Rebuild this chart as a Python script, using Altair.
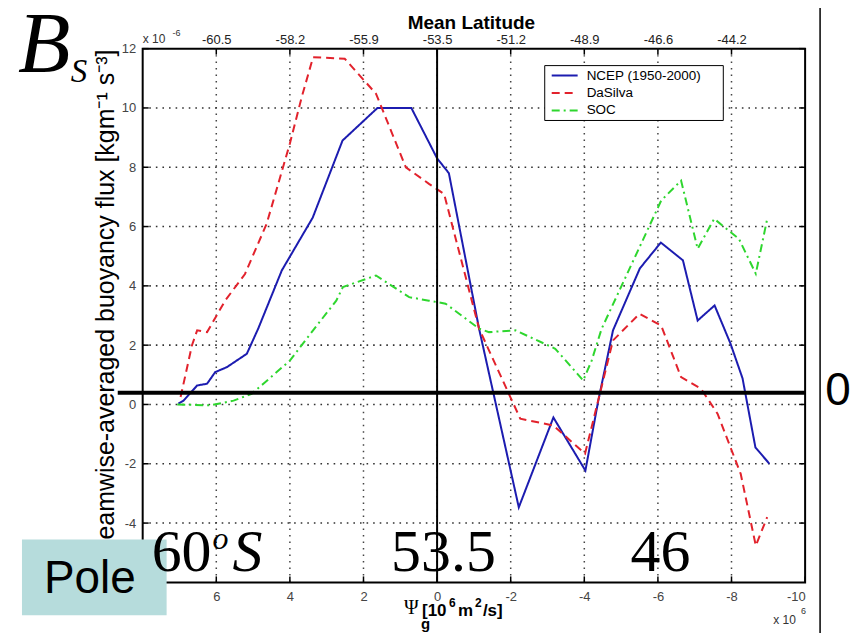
import altair as alt
import pandas as pd

# ---------------- data (x in 10^6 m^2/s, y in 10^-6 kg m^-1 s^-3) ----------------
series_names = ["NCEP (1950-2000)", "DaSilva", "SOC"]

ncep_psi = [7.03, 6.89, 6.52, 6.25, 6.03, 5.71, 5.17, 4.86, 4.22, 3.38, 2.57, 1.62, 0.70,
            0.0, -0.32, -1.14, -2.22, -3.16, -4.03, -4.38, -4.78, -5.51, -6.08, -6.68,
            -7.08, -7.54, -7.97, -8.30, -8.65, -9.03]
ncep_b = [0.03, 0.13, 0.64, 0.70, 1.09, 1.26, 1.71, 2.56, 4.52, 6.30, 8.90, 10.0, 10.0,
          8.30, 7.80, 2.56, -3.47, -0.44, -2.23, 0.13, 2.50, 4.59, 5.46, 4.86,
          2.83, 3.34, 2.06, 0.88, -1.45, -2.00]

dasilva_psi = [6.97, 6.66, 6.52, 6.25, 5.76, 5.22, 4.63, 4.00, 3.68, 3.37, 2.51, 1.66, 0.85,
               0.22, -0.19, -1.14, -1.99, -2.26, -3.16, -4.02, -4.78, -5.50, -6.09, -6.63,
               -7.17, -7.62, -8.25, -8.66, -8.97]
dasilva_b = [0.25, 2.00, 2.50, 2.44, 3.50, 4.40, 6.10, 8.80, 10.36, 11.71, 11.66, 10.48, 8.00,
             7.44, 7.10, 2.56, 0.25, -0.48, -0.71, -1.66, 2.16, 3.06, 2.66, 0.92,
             0.53, -0.31, -2.34, -4.76, -3.80]

soc_psi = [7.06, 6.16, 5.53, 5.04, 4.72, 4.00, 3.37, 2.74, 2.56, 1.66, 0.76, 0.22, -0.23,
           -1.14, -1.41, -2.13, -3.21, -3.97, -4.20, -4.47, -6.09, -6.63, -7.08, -7.53,
           -8.20, -8.66, -8.97]
soc_b = [0.00, -0.03, 0.13, 0.36, 0.70, 1.48, 2.50, 3.50, 3.96, 4.35, 3.62, 3.50, 3.40,
         2.56, 2.44, 2.50, 1.88, 0.81, 1.48, 2.55, 6.88, 7.55, 5.25, 6.26,
         5.59, 4.41, 6.26]

x_ticks = [6, 4, 2, 0, -2, -4, -6, -8, -10]
y_ticks = [-4, -2, 0, 2, 4, 6, 8, 10, 12]
grid_y = [-4, -2, 0, 2, 4, 6, 8, 10]
top_ticks = [6, 4, 2, 0, -2, -4, -6, -8]
lat_labels = ["-60.5", "-58.2", "-55.9", "-53.5", "-51.2", "-48.9", "-46.6", "-44.2"]

# ---------------- tables ----------------
rows = []
for name, xs, ys in [(series_names[0], ncep_psi, ncep_b),
                     (series_names[1], dasilva_psi, dasilva_b),
                     (series_names[2], soc_psi, soc_b)]:
    for i, (xv, yv) in enumerate(zip(xs, ys)):
        rows.append({"series": name, "psi": xv, "b": yv, "idx": i})
df = pd.DataFrame(rows)

colors = ["#1c1cb0", "#e2222c", "#2ed62e"]
dashes = [[1, 0], [8, 5], [8, 4, 2, 4]]

W, H = 664, 535
xscale = alt.Scale(domain=[-10, 8], reverse=True, nice=False, zero=False)
yscale = alt.Scale(domain=[-6, 12], nice=False, zero=False)

# dotted grid (MATLAB style), drawn from the tick lists through the scales
xgrid = alt.Chart(pd.DataFrame({"psi": top_ticks})).mark_rule(
    color="#444", strokeWidth=1.5, strokeDash=[1.5, 5]).encode(
    x=alt.X("psi:Q", scale=xscale, axis=None), y=alt.value(0), y2=alt.value(H))
ygrid = alt.Chart(pd.DataFrame({"gy": grid_y})).mark_rule(
    color="#333", strokeWidth=1.6, strokeDash=[1.6, 5]).encode(
    y=alt.Y("gy:Q", scale=yscale, axis=None), x=alt.value(0), x2=alt.value(W))

lines = alt.Chart(df).mark_line(strokeWidth=2).encode(
    x=alt.X("psi:Q", scale=xscale,
            axis=alt.Axis(orient="bottom", values=x_ticks, grid=False, title=None,
                          labelExpr="'' + datum.value", labelPadding=8)),
    y=alt.Y("b:Q", scale=yscale,
            axis=alt.Axis(values=y_ticks, grid=False, labelExpr="'' + datum.value",
                          labelPadding=7,
                          title="Streamwise-averaged buoyancy flux [kgm\u207b\u00b9 s\u207b\u00b3]",
                          titleFontSize=25, titleFontWeight="normal", titleColor="black",
                          titleAngle=270, titleX=-29, titleY=262, titleAlign="center",
                          titleBaseline="alphabetic")),
    color=alt.Color("series:N", scale=alt.Scale(domain=series_names, range=colors), legend=None),
    strokeDash=alt.StrokeDash("series:N", scale=alt.Scale(domain=series_names, range=dashes),
                              legend=None),
    order="idx:Q",
)

# top latitude axis + inward ticks
lab_expr = " : ".join(f"datum.value == {t} ? '{l}'" for t, l in zip(top_ticks, lat_labels)) + " : ''"
xt_df = pd.DataFrame({"psi": top_ticks})
top_axis = alt.Chart(xt_df).mark_rule(color="black", strokeWidth=1.5).encode(
    x=alt.X("psi:Q", scale=xscale,
            axis=alt.Axis(orient="top", values=top_ticks, labelExpr=lab_expr, grid=False,
                          labelPadding=2, labelColor="#222", title="Mean Latitude",
                          titleFontSize=19, titleFontWeight="bold", titleColor="black",
                          titleX=329, titleY=-20, titleBaseline="alphabetic")),
    y=alt.value(0), y2=alt.value(6),
)
bottom_ticks = alt.Chart(pd.DataFrame({"psi": x_ticks})).mark_rule(color="black", strokeWidth=1.5).encode(
    x=alt.X("psi:Q", scale=xscale, axis=None), y=alt.value(H - 6), y2=alt.value(H))
yt_df = pd.DataFrame({"b": y_ticks})
left_ticks = alt.Chart(yt_df).mark_rule(color="black", strokeWidth=1.5).encode(
    y=alt.Y("b:Q", scale=yscale, axis=None), x=alt.value(0), x2=alt.value(6))
right_ticks = alt.Chart(yt_df).mark_rule(color="black", strokeWidth=1.5).encode(
    y=alt.Y("b:Q", scale=yscale, axis=None), x=alt.value(W - 6), x2=alt.value(W))

one = alt.Data(values=[{"k": 0}])

zero_vline = alt.Chart(one).mark_rule(color="black", strokeWidth=2).encode(
    x=alt.XDatum(0, axis=None, scale=xscale), y=alt.value(0), y2=alt.value(H))
hline = alt.Chart(one).mark_rule(color="black", strokeWidth=4).encode(
    x=alt.value(-25), x2=alt.value(W), y=alt.value(345))
right_vline = alt.Chart(one).mark_rule(color="black", strokeWidth=1.5).encode(
    x=alt.value(679), y=alt.value(-48), y2=alt.value(600))

# legend (drawn by hand to match the compact MATLAB legend)
legend_box = alt.Chart(one).mark_rect(fill="white", stroke="black", strokeWidth=1).encode(
    x=alt.value(403), x2=alt.value(582), y=alt.value(17), y2=alt.value(72))
legend_parts = []
for i, (name, col, dash) in enumerate(zip(series_names, colors, dashes)):
    yy = 27 + i * 17.5
    legend_parts.append(
        alt.Chart(one).mark_rule(color=col, strokeWidth=2, strokeDash=dash).encode(
            x=alt.value(410), x2=alt.value(436), y=alt.value(yy)))
    legend_parts.append(
        alt.Chart(alt.Data(values=[{"t": name}])).mark_text(
            x=445, y=yy, fontSize=13.5, font="Liberation Sans", align="left",
            baseline="middle", color="black").encode(text="t:N"))

pole_box = alt.Chart(one).mark_rect(fill="#b6dcdc").encode(
    x=alt.value(-121), x2=alt.value(24), y=alt.value(492), y2=alt.value(568))


def label(text, x, y, size, font="Liberation Sans", style="normal", weight="normal",
          align="left", color="black"):
    return alt.Chart(alt.Data(values=[{"t": text}])).mark_text(
        x=x, y=y, fontSize=size, font=font, fontStyle=style, fontWeight=weight,
        align=align, baseline="alphabetic", color=color).encode(text="t:N")


serif = "Liberation Serif"
texts = [
    label("B", -125, 23, 86, font=serif, style="italic"),
    label("S", -72, 33, 33, font=serif, style="italic"),
    label("60", 9, 524, 60, font=serif),
    label("o", 70, 502, 32, font=serif, style="italic"),
    label("S", 90, 524, 60, font=serif, style="italic"),
    label("53.5", 249, 524, 60, font=serif),
    label("46", 489, 524, 60, font=serif),
    label("Pole", -53, 546, 46, align="center"),
    label("0", 697, 357, 46, align="center"),
    label("x 10", 0, -6, 12, color="#333"),
    label("-6", 30, -13, 9, color="#333"),
    label("x 10", 632, 577, 12, color="#333"),
    label("6", 660, 567, 9, color="#333"),
    label("\u03a8", 262, 567, 20, font=serif),
    label("g", 279, 582, 15, weight="bold"),
    label("[10", 280, 569, 17, weight="bold"),
    label("6", 307, 560, 12, weight="bold"),
    label("m", 316, 569, 17, weight="bold"),
    label("2", 333, 560, 12, weight="bold"),
    label("/s]", 341, 569, 17, weight="bold"),
]

chart = alt.layer(
    xgrid, ygrid, lines, top_axis, bottom_ticks, left_ticks, right_ticks, zero_vline, hline,
    right_vline, legend_box, *legend_parts, pole_box, *texts
).resolve_axis(x="independent", y="independent").properties(
    width=W, height=H,
    padding={"left": 135, "top": 40, "right": 48, "bottom": 50},
    autosize=alt.AutoSizeParams(type="none"),
).configure_view(stroke="black", strokeWidth=2).configure_axis(
    domain=False, tickSize=0, labelFont="Liberation Sans", labelFontSize=13,
    labelColor="#444", titleFont="Liberation Sans",
)

chart.save("out.html", embed_options={"renderer": "svg", "actions": False})
